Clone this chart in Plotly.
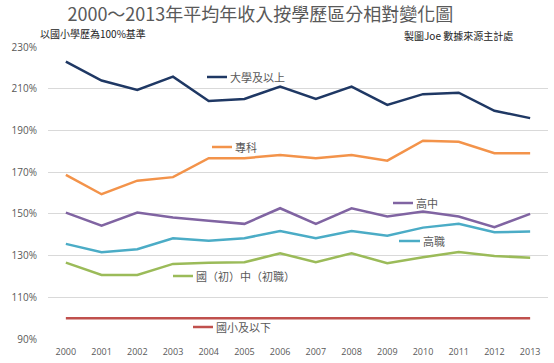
import plotly.graph_objects as go

years = ["2000","2001","2002","2003","2004","2005","2006","2007","2008","2009","2010","2011","2012","2013"]
univ = [223.0,213.9,209.4,215.8,204.1,205.1,211.0,205.1,211.0,202.2,207.4,208.1,199.4,195.9]
junior_college = [168.7,159.4,165.9,167.6,176.7,176.7,178.2,176.7,178.2,175.5,185.1,184.6,179.1,179.1]
high_school = [150.6,144.3,150.6,148.2,146.7,145.2,152.7,145.2,152.7,148.7,151.1,148.7,143.6,150.0]
vocational = [135.6,131.6,133.0,138.3,137.1,138.3,141.8,138.3,141.8,139.5,143.4,145.2,141.2,141.5]
junior_high = [126.6,120.7,120.7,126.0,126.5,126.8,131.1,126.8,131.1,126.3,129.2,131.7,129.8,129.0]
primary = [100,100,100,100,100,100,100,100,100,100,100,100,100,100]
y_ticks = [90,110,130,150,170,190,210,230]

series = [
    ("大學及以上", univ, "#1F3864"),
    ("專科", junior_college, "#F3934A"),
    ("高中", high_school, "#8064A2"),
    ("高職", vocational, "#4BACC6"),
    ("國（初）中（初職）", junior_high, "#9BBB59"),
    ("國小及以下", primary, "#C0504D"),
]

W, H = 554, 363
L, R, T, B = 48, 6, 47, 24
pw, ph = W - L - R, H - T - B

def px(x):
    return (x - L) / pw

def py(y):
    return (H - B - y) / ph

fig = go.Figure()
for name, vals, col in series:
    fig.add_trace(go.Scatter(x=years, y=vals, mode="lines", name=name,
                             line=dict(color=col, width=2.5)))

# label positions (pixel): segment x0, x1, y
label_pos = [(207, 227, 77), (212, 232, 147), (393, 413, 203),
             (399, 420, 241), (173, 193, 276), (193, 213, 327)]
for (name, vals, col), (x0, x1, yy) in zip(series, label_pos):
    fig.add_shape(type="line", xref="paper", yref="paper",
                  x0=px(x0), x1=px(x1), y0=py(yy), y1=py(yy),
                  line=dict(color=col, width=2.5))
    fig.add_annotation(xref="paper", yref="paper", x=px(x1 + 1), y=py(yy),
                       text=name, showarrow=False, xanchor="left", yanchor="middle",
                       font=dict(family="Noto Sans CJK TC", size=11, color="#595959"))

fig.add_annotation(xref="paper", yref="paper", x=px(38), y=py(33),
                   text="以國小學歷為100%基準", showarrow=False, xanchor="left", yanchor="middle",
                   font=dict(family="Noto Sans CJK TC", size=10, color="#222222"))
fig.add_annotation(xref="paper", yref="paper", x=px(515), y=py(35),
                   text="製圖Joe 數據來源主計處", showarrow=False, xanchor="right", yanchor="middle",
                   font=dict(family="Noto Sans CJK TC", size=10, color="#222222"))

fig.update_layout(
    width=W, height=H,
    margin=dict(l=L, r=R, t=T, b=B),
    paper_bgcolor="white", plot_bgcolor="white",
    showlegend=False,
    title=dict(text="2000～2013年平均年收入按學歷區分相對變化圖",
               x=px(283), xanchor="center", y=1 - 15 / H, yanchor="middle",
               font=dict(family="Noto Sans CJK TC", size=18, color="#595959")),
)
fig.update_xaxes(type="category", range=[-0.5, 13.5], showgrid=False, showline=False,
                 zeroline=False, ticks="outside", ticklen=4, tickcolor="rgba(0,0,0,0)",
                 tickfont=dict(family="Open Sans", size=9, color="#595959"))
fig.update_yaxes(range=[90, 230], tickvals=y_ticks, ticktext=[f"{v}%" for v in y_ticks],
                 showgrid=True, gridcolor="#D9D9D9", gridwidth=1, zeroline=False,
                 showline=False, ticks="outside", ticklen=8, tickcolor="rgba(0,0,0,0)",
                 tickfont=dict(family="Open Sans", size=10, color="#595959"))

fig.write_html("out.html", config={"displayModeBar": False},
               post_script="document.body.style.margin='0';document.body.style.padding='0';document.body.style.overflow='hidden';")
